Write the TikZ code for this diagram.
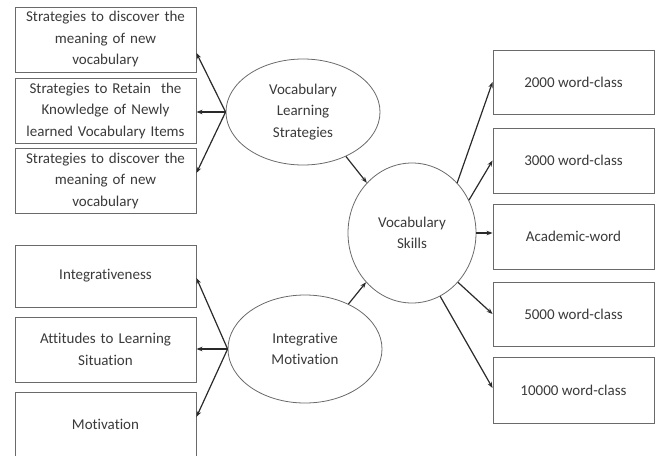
\documentclass[tikz,border=0pt]{standalone}
\usepackage{fontspec}
\setmainfont{Carlito}[RawFeature={-liga;-clig;-dlig}]
\usetikzlibrary{arrows.meta,shapes.geometric}
\definecolor{boxgray}{HTML}{6A6A6A}
\definecolor{textgray}{HTML}{3A3A3A}
\definecolor{arrgray}{HTML}{2A2A2A}
\begin{document}
\begin{tikzpicture}[x=1pt,y=-1pt,
 txt/.style={text=textgray, font=\fontsize{15}{21.5}\selectfont, align=center},
 box/.style={txt, draw=boxgray, line width=0.9pt, rectangle, inner sep=0pt},
 lbox/.style={box, minimum width=181pt, minimum height=65pt, text width=176pt},
 rbox/.style={box, minimum width=161pt, minimum height=65pt},
 oval/.style={txt, draw=boxgray, line width=0.8pt, ellipse, inner sep=0pt},
 arr/.style={draw=arrgray, line width=1.2pt, -{Stealth[length=6pt,width=4.5pt]}}]
\useasboundingbox (0,0) rectangle (660,455);
% left boxes, top group
\node[lbox] (b1) at (105.5,39.5) {Strategies to discover the\\meaning of new\\vocabulary};
\node[lbox] (b2) at (105.5,110.5) {Strategies to Retain\ \ the\\Knowledge of Newly\\learned Vocabulary Items};
\node[lbox] (b3) at (105.5,180.5) {Strategies to discover the\\meaning of new\\vocabulary};
% left boxes, bottom group
\node[lbox, minimum height=62pt] (b4) at (105.5,276) {Integrativeness};
\node[lbox] (b5) at (105.5,349.5) {Attitudes to Learning\\Situation};
\node[lbox] (b6) at (105.5,424.5) {Motivation};
% ellipses
\node[oval, minimum width=154pt, minimum height=106pt] (vls) at (303,112) {Vocabulary\\Learning\\Strategies};
\node[oval, minimum width=154pt, minimum height=108pt] (im) at (305,349) {Integrative\\Motivation};
\node[oval, minimum width=128pt, minimum height=140pt] (vs) at (412,233) {Vocabulary\\Skills};
% right boxes
\node[rbox, minimum height=64pt] (ra) at (573.5,82) {2000 word-class};
\node[rbox] (rb) at (573.5,160.5) {3000 word-class};
\node[rbox] (rc) at (573.5,236.5) {Academic-word};
\node[rbox, minimum height=64pt] (rd) at (573.5,314) {5000 word-class};
\node[rbox, minimum height=66pt] (re) at (573.5,390) {10000 word-class};
% arrows to left boxes
\draw[arr] (vls.west) -- ([yshift=-13.5pt]b1.east);
\draw[arr] (vls.west) -- (vls.west -| b2.east);
\draw[arr] (vls.west) -- ([yshift=7.5pt]b3.east);
\draw[arr] (im.west) -- ([yshift=-2pt]b4.east);
\draw[arr] (im.west) -- (im.west -| b5.east);
\draw[arr] (im.west) -- ([yshift=7.5pt]b6.east);
% arrows into skills
\draw[arr] (vls.-46) -- (vs.132);
\draw[arr] (im.46) -- (vs.227);
% arrows to right boxes
\draw[arr] (vs.48) -- (ra.west);
\draw[arr] (vs.30) -- (rb.west);
\draw[arr] (vs.east) -- (vs.east -| rc.west);
\draw[arr] (vs.-47) -- (rd.west);
\draw[arr] (vs.-66) -- ([yshift=2pt]re.west);
\end{tikzpicture}
\end{document}
